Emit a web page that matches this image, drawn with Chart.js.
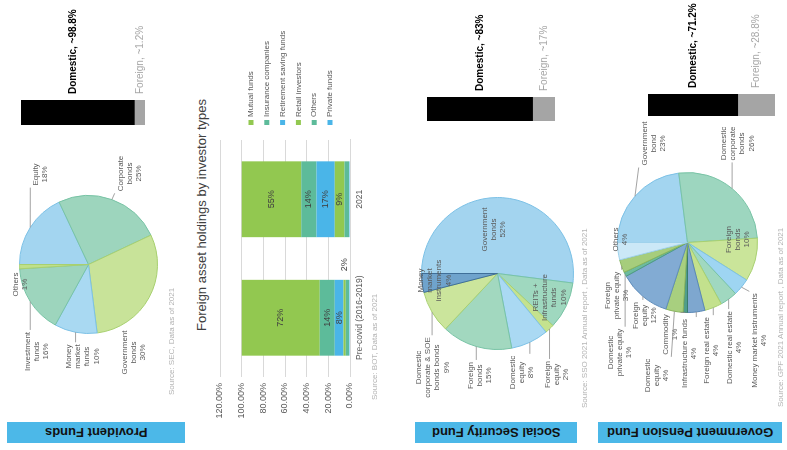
<!DOCTYPE html>
<html><head><meta charset="utf-8">
<script src="https://cdn.jsdelivr.net/npm/chart.js@4.4.1/dist/chart.umd.min.js"></script>
<style>
html,body{margin:0;padding:0;background:#fff;overflow:hidden;width:787px;height:450px}
#slide{position:absolute;left:0;top:0;width:450px;height:787px;transform-origin:0 0;transform:translate(0px,450px) rotate(-90deg);font-family:"Liberation Sans",Arial,Helvetica,sans-serif;background:#fff}
.banner{position:absolute;background:#4cb8e8;display:flex;align-items:center;justify-content:center}
.banner span{writing-mode:vertical-rl;transform:rotate(180deg);font-weight:bold;font-size:13px;color:#111;white-space:nowrap}
.src{position:absolute;font-size:8px;color:#b3b3b3;white-space:nowrap;line-height:8px}
.title{position:absolute;text-align:center;font-size:13px;color:#404040;line-height:16px;white-space:nowrap}
canvas{position:absolute}
</style></head><body>
<div id="slide">
  <div class="banner" style="left:7px;top:7px;width:21px;height:178px"><span>Provident Funds</span></div>
  <div class="banner" style="left:7px;top:415px;width:21px;height:162px"><span>Social Security Fund</span></div>
  <div class="banner" style="left:7px;top:598px;width:21px;height:184px"><span>Government Pension Fund</span></div>

  <canvas id="pieP" width="310" height="190" style="left:30px;top:0px"></canvas>
  <canvas id="barP" width="150" height="190" style="left:300px;top:0px"></canvas>
  <div class="src" style="left:55px;top:168px">Source: SEC, Data as of 2021</div>

  <div class="title" style="left:20px;top:194px;width:430px">Foreign asset holdings by investor types</div>
  <canvas id="holdings" width="430" height="200" style="left:20px;top:190px"></canvas>
  <div class="src" style="left:50px;top:371px">Source: BOT, Data as of 2021</div>

  <canvas id="pieS" width="310" height="200" style="left:30px;top:390px"></canvas>
  <canvas id="barS" width="150" height="200" style="left:300px;top:390px"></canvas>
  <div class="src" style="left:42px;top:581px">Source: SSO 2021 Annual report , Data as of 2021</div>

  <canvas id="pieG" width="310" height="197" style="left:30px;top:590px"></canvas>
  <canvas id="barG" width="150" height="197" style="left:300px;top:590px"></canvas>
  <div class="src" style="left:43px;top:777px">Source: GPF 2021 Annual report , Data as of 2021</div>
</div>
<script>
// ---------------- DATA ----------------
const providentCategories = ['Equity', 'Corporate\nbonds', 'Government\nbonds', 'Money\nmarket\nfunds', 'Investment\nfunds', 'Others'];
const providentValues = [18, 25, 30, 10, 16, 1];

const ssfCategories = ['Government\nbonds', 'REITs +\nInfrastructure\nfunds', 'Foreign\nequity', 'Domestic\nequity', 'Foreign\nbonds', 'Domestic\ncorporate & SOE\nbonds bonds', 'Money\nmarket\ninstruments'];
const ssfValues = [52, 10, 2, 8, 15, 9, 4];

const gpfCategories = ['Government\nbond', 'Domestic\ncorporate\nbonds', 'Foreign\nbonds', 'Money market instruments', 'Domestic real estate', 'Foreign real estate', 'Infrastructure funds', 'Commodity', 'Domestic\nequity', 'Foreign\nequity', 'Domestic\nprivate equity', 'Foreign\nprivate equity', 'Others'];
const gpfValues = [23, 26, 10, 4, 4, 4, 4, 1, 4, 12, 1, 3, 4];

const splitLabels = ['Domestic', 'Foreign'];
const providentSplit = [98.8, 1.2];
const ssfSplit = [83, 17];
const gpfSplit = [71.2, 28.8];

const periods = ['Pre-covid (2016-2019)', '2021'];
const investorTypes = ['Mutual funds', 'Insurance companies', 'Retirement saving funds', 'Retail investors', 'Others', 'Private funds'];
const mutualFunds = [72, 55];
const insuranceCompanies = [14, 14];
const retirementSavingFunds = [8, 17];
const retailInvestors = [2, 9];
const otherInvestors = [3, 4];
const privateFunds = [1, 1];
const valueTicks = [0, 20, 40, 60, 80, 100, 120];

// ---------------- STYLE ----------------
const FONT = '"Liberation Sans", Arial, Helvetica, sans-serif';
Chart.defaults.font.family = FONT;

const providentColors = ['#a3d5f0', '#9dd5bd', '#c8e399', '#a9d9f2', '#9dd5bd', '#bfe08a'];
const providentBorders = ['#7cc1e6', '#78c3a5', '#a8d070', '#7cc1e6', '#78c3a5', '#a8d070'];
const ssfColors = ['#a3d4ef', '#9fd8bf', '#c4e28f', '#aad9f3', '#a2d8bf', '#cbe59c', '#6fa3cc'];
const ssfBorders = ['#7cc1e6', '#78c3a5', '#a8d070', '#7cc1e6', '#78c3a5', '#a8d070', '#3f6f99'];
const gpfColors = ['#a3d5f0', '#9dd6bf', '#cae59a', '#9ed5f2', '#a0d8c0', '#c3e18d', '#7ea7cf', '#4f9e8a', '#a8cf7f', '#82abd3', '#6dbb9f', '#a6cd7c', '#cbe8f7'];
const gpfBorders = ['#7cc1e6', '#78c3a5', '#a8d070', '#7cc1e6', '#78c3a5', '#a8d070', '#5a87b5', '#3a7c6b', '#88b55c', '#5f8dbb', '#4e9c80', '#88b55c', '#9fd2ec'];

// label block centres relative to pie centre, and whether a leader line is drawn
const providentLabelPos = [[90, -48], [91, 41], [-88, 45], [-92, -6], [-87, -52], [-20, -68]];
const providentLeaders = [1, 1, 0, 1, 1, 0];
const ssfLabelPos = [[44, -4], [-24, 52], [-101, 59], [-99, 24], [-102, -18], [-94, -65], [-7, -63]];
const ssfLeaders = [0, 0, 1, 1, 1, 1, 0];
const gpfLabelPos = [[99, -34], [99, 50], [3, 50], [-98, 72], [-105, 47], [-108, 24], [-111, 2], [-92, -17], [-133, -31], [-73, -43], [-110, -68], [-53, -71], [3, -67]];
const gpfLeaders = [1, 1, 0, 1, 1, 1, 1, 1, 1, 1, 1, 1, 0];

const seriesColors = ['#92c850', '#5dbb9a', '#4ab5e8', '#92c850', '#5dbb9a', '#4ab5e8'];

// ---------------- PIES ----------------
function pieLabelPlugin(pos, leaders) {
  return {
    id: 'pieLabels',
    afterDatasetsDraw(chart) {
      const ctx = chart.ctx;
      const meta = chart.getDatasetMeta(0);
      const vals = chart.data.datasets[0].data;
      const lh = 9.2;
      ctx.save();
      ctx.font = '8px ' + FONT;
      ctx.textAlign = 'center';
      ctx.textBaseline = 'middle';
      meta.data.forEach((arc, i) => {
        const p = arc.getProps(['x', 'y', 'startAngle', 'endAngle', 'outerRadius'], true);
        const mid = (p.startAngle + p.endAngle) / 2;
        const ex = p.x + Math.cos(mid) * p.outerRadius;
        const ey = p.y + Math.sin(mid) * p.outerRadius;
        const lines = String(chart.data.labels[i]).split('\n').concat(vals[i] + '%');
        const lx = p.x + pos[i][0], ly = p.y + pos[i][1];
        const h = lines.length * lh;
        const w = Math.max(...lines.map(t => ctx.measureText(t).width));
        if (leaders[i]) {
          const bx = Math.min(Math.max(ex, lx - w / 2 - 2), lx + w / 2 + 2);
          const by = Math.min(Math.max(ey, ly - h / 2 - 1), ly + h / 2 + 1);
          ctx.strokeStyle = '#8c8c8c';
          ctx.lineWidth = 0.8;
          ctx.beginPath(); ctx.moveTo(bx, by); ctx.lineTo(ex, ey); ctx.stroke();
        }
        ctx.fillStyle = '#595959';
        lines.forEach((t, k) => ctx.fillText(t, lx, ly - h / 2 + lh * (k + 0.5)));
      });
      ctx.restore();
    }
  };
}

function makePie(id, labels, values, colors, borders, pos, leaders, pad) {
  new Chart(document.getElementById(id), {
    type: 'pie',
    data: { labels: labels, datasets: [{ data: values, backgroundColor: colors, borderColor: borders, borderWidth: 1 }] },
    options: {
      responsive: false, animation: false,
      layout: { padding: pad },
      plugins: { legend: { display: false }, tooltip: { enabled: false } }
    },
    plugins: [pieLabelPlugin(pos, leaders)]
  });
}

makePie('pieP', providentCategories, providentValues, providentColors, providentBorders, providentLabelPos, providentLeaders, { left: 86, top: 19, right: 85, bottom: 32 });
makePie('pieS', ssfCategories, ssfValues, ssfColors, ssfBorders, ssfLabelPos, ssfLeaders, { left: 70, top: 31, right: 87, bottom: 16 });
makePie('pieG', gpfCategories, gpfValues, gpfColors, gpfBorders, gpfLabelPos, gpfLeaders, { left: 107, top: 27, right: 62, bottom: 29 });

// ---------------- DOMESTIC / FOREIGN SPLIT BARS ----------------
function makeSplitBar(id, split, pad) {
  new Chart(document.getElementById(id), {
    type: 'bar',
    data: {
      labels: [''],
      datasets: [
        { label: splitLabels[1], data: [split[1]], backgroundColor: '#a5a5a5', minBarLength: 10 },
        { label: splitLabels[0], data: [split[0]], backgroundColor: '#000000' }
      ]
    },
    options: {
      responsive: false, animation: false,
      layout: { padding: pad },
      datasets: { bar: { barPercentage: 1, categoryPercentage: 1 } },
      scales: {
        x: { display: false, stacked: true },
        y: { display: false, stacked: true, min: 0, max: 100 }
      },
      plugins: { legend: { display: false }, tooltip: { enabled: false } }
    },
    plugins: [{
      id: 'splitLabels',
      afterDatasetsDraw(chart) {
        const ctx = chart.ctx;
        const f = chart.getDatasetMeta(0).data[0];
        const d = chart.getDatasetMeta(1).data[0];
        const x = chart.chartArea.right + 6;
        ctx.save();
        ctx.textAlign = 'left';
        ctx.textBaseline = 'middle';
        ctx.font = 'bold 10px ' + FONT;
        ctx.fillStyle = '#000';
        ctx.fillText(splitLabels[0] + ', ~' + split[0] + '%', x, (d.y + f.y) / 2);
        ctx.font = '10px ' + FONT;
        ctx.fillStyle = '#a6a6a6';
        ctx.fillText(splitLabels[1] + ', ~' + split[1] + '%', x, (f.y + f.base) / 2);
        ctx.restore();
      }
    }]
  });
}
makeSplitBar('barP', providentSplit, { left: 25, right: 100, top: 21, bottom: 45 });
makeSplitBar('barS', ssfSplit, { left: 29, right: 97, top: 37, bottom: 35 });
makeSplitBar('barG', gpfSplit, { left: 34, right: 94, top: 58, bottom: 12 });

// ---------------- FOREIGN HOLDINGS STACKED BAR ----------------
const seriesValues = [mutualFunds, insuranceCompanies, retirementSavingFunds, retailInvestors, otherInvestors, privateFunds];
const holdingsDatasets = investorTypes.map((name, k) => ({
  label: name, data: seriesValues[k], backgroundColor: seriesColors[k], borderWidth: 0
})).reverse(); // first legend entry sits on top of the stack

new Chart(document.getElementById('holdings'), {
  type: 'bar',
  data: { labels: periods, datasets: holdingsDatasets },
  options: {
    responsive: false, animation: false,
    layout: { padding: { top: 30, right: 140, left: 0, bottom: 0 } },
    datasets: { bar: { barPercentage: 0.8, categoryPercentage: 0.8 } },
    scales: {
      x: {
        stacked: true,
        grid: { display: false, drawTicks: false },
        border: { display: true, color: '#d9d9d9' },
        ticks: { font: { size: 8.5 }, color: '#595959', padding: 5, maxRotation: 0 },
        afterFit(s) { s.height = 40; }
      },
      y: {
        stacked: true, min: 0, max: 120,
        grid: { color: '#d9d9d9', drawTicks: false },
        border: { display: false },
        ticks: { font: { size: 9 }, color: '#595959', padding: 6, callback: v => v.toFixed(2) + '%' },
        afterBuildTicks(s) { s.ticks = valueTicks.map(v => ({ value: v })); },
        afterFit(s) { s.width = 53; }
      }
    },
    plugins: { legend: { display: false }, tooltip: { enabled: false } }
  },
  plugins: [{
    id: 'holdingLabels',
    afterDatasetsDraw(chart) {
      const ctx = chart.ctx;
      ctx.save();
      ctx.textAlign = 'center';
      ctx.textBaseline = 'middle';
      ctx.font = '9px ' + FONT;
      ctx.fillStyle = '#404040';
      chart.data.datasets.forEach((ds, di) => {
        chart.getDatasetMeta(di).data.forEach((bar, i) => {
          const v = ds.data[i];
          const yMid = (bar.y + bar.base) / 2;
          if (v >= 5) {
            ctx.fillText(v + '%', bar.x, yMid);
          } else if (ds.label === investorTypes[3] && i === 0) {
            ctx.fillText(v + '%', bar.x + bar.width / 2 + 15, yMid);
          }
        });
      });
      // legend
      const ca = chart.chartArea;
      ctx.textAlign = 'left';
      ctx.font = '8px ' + FONT;
      investorTypes.forEach((name, k) => {
        const y = ca.top + 31 + k * 15.8;
        const x = ca.right + 15;
        ctx.fillStyle = seriesColors[k];
        ctx.fillRect(x, y - 2.5, 5, 5);
        ctx.fillStyle = '#595959';
        ctx.fillText(name, x + 8, y);
      });
      ctx.restore();
    }
  }]
});
</script>
</body></html>
